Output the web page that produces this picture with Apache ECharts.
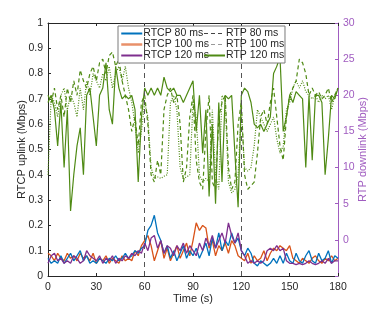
<!DOCTYPE html>
<html><head><meta charset="utf-8">
<script src="https://cdn.jsdelivr.net/npm/echarts@6/dist/echarts.min.js"></script>
<style>html,body{margin:0;padding:0;background:#fff}#c{width:374px;height:311px}</style>
</head><body><div id="c"></div>
<script>
var time = [0,2,4,6,8,10,12,14,16,18,20,22,24,26,28,30,32,34,36,38,40,42,44,46,48,50,52,54,56,58,60,62,64,66,68,70,72,74,76,78,80,82,84,86,88,90,92,94,96,98,100,102,104,106,108,110,112,114,116,118,120,122,124,126,128,130,132,134,136,138,140,142,144,146,148,150,152,154,156,158,160,162,164,166,168,170,172,174,176,178,180];
var rtcp80 = [0.07,0.05,0.06,0.05,0.08,0.05,0.07,0.09,0.06,0.08,0.1,0.06,0.08,0.05,0.06,0.05,0.07,0.06,0.05,0.07,0.06,0.08,0.06,0.07,0.09,0.07,0.08,0.1,0.09,0.11,0.12,0.18,0.2,0.24,0.17,0.14,0.09,0.12,0.07,0.1,0.06,0.09,0.12,0.07,0.1,0.08,0.11,0.07,0.1,0.13,0.08,0.15,0.11,0.17,0.1,0.14,0.12,0.17,0.13,0.15,0.1,0.08,0.11,0.09,0.05,0.04,0.06,0.05,0.04,0.05,0.07,0.05,0.08,0.05,0.09,0.06,0.05,0.09,0.06,0.05,0.08,0.1,0.06,0.05,0.09,0.06,0.07,0.1,0.05,0.08,0.07];
var rtcp100 = [0.09,0.08,0.06,0.09,0.07,0.06,0.09,0.07,0.08,0.06,0.09,0.07,0.08,0.06,0.09,0.05,0.07,0.06,0.08,0.05,0.07,0.06,0.05,0.08,0.06,0.07,0.06,0.1,0.08,0.12,0.14,0.16,0.12,0.06,0.1,0.14,0.07,0.11,0.06,0.09,0.12,0.07,0.1,0.13,0.08,0.14,0.21,0.18,0.2,0.19,0.11,0.14,0.08,0.12,0.1,0.13,0.09,0.14,0.12,0.08,0.07,0.06,0.09,0.05,0.08,0.06,0.07,0.1,0.06,0.09,0.11,0.1,0.12,0.11,0.1,0.12,0.07,0.06,0.05,0.07,0.06,0.05,0.07,0.08,0.06,0.05,0.07,0.06,0.08,0.06,0.07];
var rtcp120 = [0.05,0.08,0.09,0.06,0.07,0.05,0.06,0.05,0.08,0.07,0.05,0.06,0.1,0.08,0.07,0.06,0.08,0.05,0.07,0.06,0.08,0.05,0.07,0.06,0.08,0.07,0.09,0.08,0.1,0.09,0.13,0.1,0.15,0.16,0.11,0.14,0.09,0.12,0.11,0.08,0.12,0.1,0.13,0.09,0.12,0.1,0.08,0.13,0.1,0.15,0.12,0.16,0.11,0.14,0.17,0.13,0.21,0.16,0.13,0.17,0.1,0.08,0.05,0.06,0.05,0.06,0.05,0.06,0.1,0.11,0.1,0.12,0.1,0.11,0.06,0.05,0.05,0.045,0.05,0.045,0.05,0.06,0.05,0.045,0.05,0.06,0.05,0.07,0.05,0.06,0.06];
var rtp80 = [20,19,21,18,20,17,21,19,22,20,23.5,22,21,23,24,22,24.5,25,23,25.5,26,24,25,22,20,18,15,17,13,19,20,16,9,8,11,9,18,20,21,19,20,16,8,10,17,20,11,8,7,15,20,8,7,17,19,20,10,7,8,16,19,9,7,7.5,8,12,17,18,16,19,21,17,13,11,17,20,21,22,25,24.5,23,20,21,20,20.5,19.5,20,21,19,20,21];
var rtp100 = [9,20,19,17,20,21,18,20,19,17,21,18,22,20,23,22,21,23,22,24,21,23,24,22,24,21,19,16,12,15,19,17,10,8.5,8.7,8.5,8.8,9,19,20,18,10,8.5,8.7,9,19,17,9,8,8.5,8,18,9,7,20,19,8,6.5,7,9,18,10,9.5,10,13,18,17,16,15,16,17,14,12,13,18,19,21,22,21,22,20.5,20,19.5,20,19,20,19.5,20,18,20,21];
var rtp120 = [19,20,18,13,19,10,18,4,9,13,15.5,9,20,21,17,13,20,21,24.5,18,16,24,21,19.5,20,19.5,20,18,8,17,21,20,21,20,21,20,22.5,21,20.5,21,20,20,19,20,21,22,15,20,12,18,6,16,5,19,8,20,19.5,20,12,4.5,20,21,20.5,19,16,15.5,16,15,16,17,23,24,25.3,15,17,20,19,20.5,20,19.5,10,20,11,20,20,19,9,14,20,19.5,21];
var markTimes = [60,120];
var names = ['RTCP 80 ms','RTCP 100 ms','RTCP 120 ms','RTP 80 ms','RTP 100 ms','RTP 120 ms'];

function pairs(v){ return v.map(function(y,i){ return [time[i], y]; }); }
var green = '#4f8a14', purple = '#a05cc0', txt = '#262626';
var font = 'Liberation Sans, Arial';
var legendText = {fontSize: 10.5, color: txt, fontFamily: font, padding: [0, 0, 0, -4]};
var noSym = {opacity: 0};
var chart = echarts.init(document.getElementById('c'));
chart.setOption({
  animation: false,
  backgroundColor: '#fff',
  grid: {left: 48, right: 36, top: 23, bottom: 35, show: false, containLabel: false, outerBoundsMode: 'none'},
  legend: [{
    orient: 'vertical', left: 118, top: 26,
    padding: [2, 76, 2, 2], itemGap: 0, itemWidth: 21, itemHeight: 10,
    backgroundColor: '#fff', borderColor: '#7a7a7a', borderWidth: 1,
    textStyle: legendText, itemStyle: noSym,
    data: [
      {name: names[0], itemStyle: noSym},
      {name: names[1], itemStyle: noSym, lineStyle: {color: '#E8906A', width: 2.5}},
      {name: names[2], itemStyle: noSym}
    ]
  }, {
    orient: 'vertical', left: 201, top: 26, z: 6,
    padding: [2, 2, 2, 2], itemGap: 0, itemWidth: 21, itemHeight: 10,
    textStyle: legendText, itemStyle: noSym,
    data: [
      {name: names[3], itemStyle: noSym, lineStyle:{color:'#444', type:[4,3], width:1}},
      {name: names[4], itemStyle: noSym, lineStyle:{color:'#999', type:[4,3], width:1}},
      {name: names[5], itemStyle: noSym}
    ]
  }],
  xAxis: [{
    type: 'value', min: 0, max: 180, interval: 30,
    name: 'Time (s)', nameLocation: 'middle', nameGap: 17, nameMoveOverlap: false,
    nameTextStyle: {fontSize: 11, color: txt, fontFamily: font},
    axisLine: {onZero: false, lineStyle: {color: '#262626'}},
    axisTick: {inside: true, length: 3, lineStyle:{color:'#262626'}},
    axisLabel: {fontSize: 10.5, color: txt, margin: 6, fontFamily: font},
    splitLine: {show: false}
  }, {
    type: 'value', min: 0, max: 180, interval: 30, position: 'top',
    axisLine: {show: true, onZero: false, lineStyle: {color: '#262626'}},
    axisTick: {inside: true, length: 3, lineStyle:{color:'#262626'}},
    axisLabel: {show: false}, splitLine: {show: false}
  }],
  yAxis: [{
    type: 'value', min: 0, max: 1, interval: 0.1, position: 'left',
    name: 'RTCP uplink (Mbps)', nameLocation: 'middle', nameGap: 21, nameMoveOverlap: false,
    nameTextStyle: {fontSize: 11, color: txt, fontFamily: font},
    axisLine: {show: true, onZero: false, lineStyle: {color: '#262626'}},
    axisTick: {show: true, inside: true, length: 3, lineStyle:{color:'#262626'}},
    axisLabel: {fontSize: 10.5, color: txt, margin: 5, fontFamily: font,
      formatter: function(v){ return String(Math.round(v*10)/10); }},
    splitLine: {show: false}
  }, {
    type: 'value', min: -5, max: 30, interval: 5, position: 'right',
    name: 'RTP downlink (Mbps)', nameLocation: 'middle', nameGap: 19, nameMoveOverlap: false,
    nameTextStyle: {fontSize: 11, color: purple, fontFamily: font},
    axisLine: {show: true, onZero: false, lineStyle: {color: purple}},
    axisTick: {show: true, inside: true, length: 3, lineStyle:{color:purple}},
    axisLabel: {fontSize: 10.5, color: purple, margin: 5, fontFamily: font,
      formatter: function(v){ return v < 0 ? '' : String(v); }},
    splitLine: {show: false}
  }],
  series: [
    {name: names[0], type: 'line', yAxisIndex: 0, symbol: 'none', data: pairs(rtcp80),
     color: '#0072BD', lineStyle: {width: 1.3, color: '#0072BD'}, z: 5},
    {name: names[1], type: 'line', yAxisIndex: 0, symbol: 'none', data: pairs(rtcp100),
     color: '#D95319', lineStyle: {width: 1.3, color: '#D95319'}, z: 4},
    {name: names[2], type: 'line', yAxisIndex: 0, symbol: 'none', data: pairs(rtcp120),
     color: '#7E2F8E', lineStyle: {width: 1.3, color: '#7E2F8E'}, z: 6},
    {name: names[3], type: 'line', yAxisIndex: 1, symbol: 'none', data: pairs(rtp80),
     color: green, lineStyle: {width: 1.2, color: green, type: [4, 3]}, z: 3,
     markLine: {silent: true, symbol: 'none', label: {show: false},
       lineStyle: {color: '#555', type: [5, 4], width: 1},
       data: markTimes.map(function(t){ return {xAxis: t}; })}},
    {name: names[4], type: 'line', yAxisIndex: 1, symbol: 'none', data: pairs(rtp100),
     color: green, lineStyle: {width: 1.2, color: green, type: [1, 1.5]}, z: 3},
    {name: names[5], type: 'line', yAxisIndex: 1, symbol: 'none', data: pairs(rtp120),
     color: green, lineStyle: {width: 1.2, color: green}, z: 3}
  ]
});
</script></body></html>
